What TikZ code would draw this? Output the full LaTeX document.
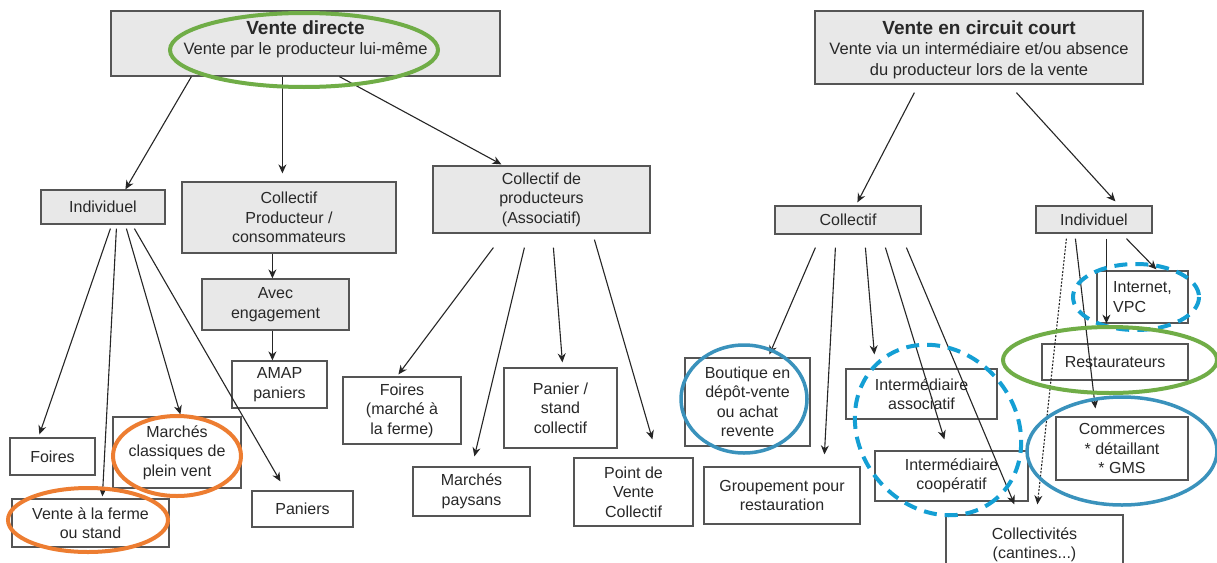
\documentclass[tikz,border=0pt]{standalone}
\usepackage{fontspec}
\setmainfont{Liberation Sans}
\usetikzlibrary{arrows.meta,calc}
\definecolor{boxgray}{RGB}{232,232,232}
\definecolor{boxline}{RGB}{85,85,85}
\definecolor{textcol}{RGB}{40,40,40}
\definecolor{ringgreen}{RGB}{112,173,71}
\definecolor{ringorange}{RGB}{237,125,49}
\definecolor{ringblue}{RGB}{58,146,188}
\definecolor{dashblue}{RGB}{20,159,212}
\tikzset{
  box/.style={draw=boxline, line width=1.2pt, inner sep=0pt, align=center,
              font=\fontsize{16}{19.5}\selectfont, text=textcol},
  gbox/.style={box, fill=boxgray},
  wbox/.style={box, fill=white},
  hdrtext/.style={align=center, inner sep=0pt, text=textcol,
              font=\fontsize{16.5}{20.5}\selectfont},
  conn/.style={draw=black!85, line width=1.1pt, -{Stealth[length=9pt,width=8pt]}},
  dotconn/.style={conn, dash pattern=on 2pt off 1.6pt},
  ring/.style={line width=4pt},
  dashring/.style={line width=4pt, draw=dashblue, dash pattern=on 13pt off 8pt},
}
\begin{document}
\begin{tikzpicture}[x=1pt,y=-1pt]
\clip (0,0) rectangle (1217,562);
\fill[white] (0,0) rectangle (1217,562);

% ---------- left: vente directe ----------
\node[gbox, minimum width=389, minimum height=65] (vd) at (305.5,43.5) {};
\node[hdrtext] (vdtext) at ($(vd)+(0,-4)$) {{\bfseries\fontsize{19}{21}\selectfont Vente directe}\\Vente par le producteur lui-même};

\node[gbox, minimum width=124, minimum height=34] (indL) at (103,207) {Individuel};
\node[gbox, minimum width=214, minimum height=71] (cpc) at (289,217.5) {Collectif\\Producteur /\\consommateurs};
\node[gbox, minimum width=217, minimum height=67] (cdp) at (541.5,199.5) {Collectif de\\producteurs\\(Associatif)};
\node[gbox, minimum width=147, minimum height=51] (avec) at (275.5,304.5) {Avec\\engagement};
\node[wbox, minimum width=95, minimum height=47] (amap) at (279.5,384.5) {AMAP\\paniers};

\node[wbox, minimum width=85, minimum height=37] (foiresL) at (52.5,456.5) {Foires};
\node[wbox, minimum width=128, minimum height=71] (marches) at (177,452.5) {Marchés\\classiques de\\plein vent};
\node[wbox, minimum width=157, minimum height=48] (vferme) at (90.5,523) {Vente à la ferme\\ou stand};
\node[wbox, minimum width=101, minimum height=36] (paniers) at (302.5,509) {Paniers};

\node[wbox, minimum width=118, minimum height=67] (foiresM) at (402,410.5) {Foires\\(marché à\\la ferme)};
\node[wbox, minimum width=117, minimum height=49] (mpays) at (471.5,491.5) {Marchés\\paysans};
\node[wbox, minimum width=113, minimum height=80] (panier) at (560.5,408) {Panier /\\stand\\collectif};
\node[wbox, minimum width=119, minimum height=68] (pvc) at (633.5,492) {Point de\\Vente\\Collectif};

% ---------- right: circuit court ----------
\node[gbox, minimum width=328, minimum height=73] (vcc) at (979,47.5) {};
\node[hdrtext] (vcctext) at ($(vcc)+(0,2)$) {{\bfseries\fontsize{19}{21}\selectfont Vente en circuit court}\\Vente via un intermédiaire et/ou absence\\du producteur lors de la vente};

\node[gbox, minimum width=146, minimum height=28] (coll) at (848,220) {Collectif};
\node[gbox, minimum width=116, minimum height=27] (indR) at (1094,219.5) {Individuel};

\node[wbox, minimum width=125, minimum height=88] (boutique) at (747.5,402) {Boutique en\\dépôt-vente\\ou achat\\revente};
\node[wbox, minimum width=156, minimum height=57] (group) at (782,495.5) {Groupement pour\\restauration};
\node[wbox, minimum width=151, minimum height=50] (iassoc) at (921.5,394) {Intermédiaire\\associatif};
\node[wbox, minimum width=153, minimum height=50] (icoop) at (951.5,476) {Intermédiaire\\coopératif};
\node[wbox, minimum width=177, minimum height=60] (collect) at (1034.5,545) {Collectivités\\(cantines...)};
\node[wbox, minimum width=91, minimum height=52, align=left] (internet) at (1142.5,297) {Internet,\\VPC};
\node[wbox, minimum width=146, minimum height=36] (resto) at (1115,362) {Restaurateurs};
\node[wbox, minimum width=132, minimum height=63] (commerces) at (1122,448.5) {Commerces\\* détaillant\\* GMS};

% ---------- connectors ----------
\draw[conn] ($(vd.south west)+(81,0)$) -- ($(indL.north west)+(85,0)$);
\draw[conn] ($(vd.south west)+(172,0)$) -- ($(cpc.north west)+(101,-8)$);
\draw[conn] ($(vd.south west)+(229,0)$) -- ($(cdp.north west)+(69,-1)$);

\draw[conn] ($(indL.south west)+(70,4)$) -- ($(foiresL.north west)+(30,-3)$);
\draw[conn] ($(indL.south west)+(76,4)$) -- ($(vferme.north west)+(91,-2)$);
\draw[conn] ($(indL.south west)+(86,4)$) -- ($(marches.north west)+(68,-2)$);
\draw[conn] ($(indL.south west)+(94,4)$) -- ($(paniers.north west)+(29,-9)$);

\draw[conn] ($(cpc.south west)+(91,0)$) -- ($(avec.north west)+(71,0)$);
\draw[conn] ($(avec.south west)+(71,0)$) -- ($(amap.north west)+(41,0)$);

\draw[conn] ($(cdp.south west)+(61,14)$) -- ($(foiresM.north west)+(56,-2)$);
\draw[conn] ($(cdp.south west)+(92,14)$) -- ($(mpays.north west)+(62,-10)$);
\draw[conn] ($(cdp.south west)+(121,14)$) -- ($(panier.north west)+(59,-5)$);
\draw[conn] ($(cdp.south west)+(162,6)$) -- ($(pvc.north west)+(79,-18)$);

\draw[conn] ($(vcc.south west)+(100,8)$) -- ($(coll.north west)+(83,-3)$);
\draw[conn] ($(vcc.south west)+(202,8)$) -- ($(indR.north west)+(80,-4)$);

\draw[conn] ($(coll.south west)+(41,13)$) -- ($(boutique.north west)+(85,-3)$);
\draw[conn] ($(coll.south west)+(61,13)$) -- ($(group.north west)+(121,-12)$);
\draw[conn] ($(coll.south west)+(91,13)$) -- ($(iassoc.north west)+(29,-14)$);
\draw[conn] ($(coll.south west)+(111,13)$) -- ($(icoop.north west)+(70,-11)$);
\draw[conn] ($(coll.south west)+(132,13)$) -- ($(collect.north west)+(69,-10)$);

\draw[dotconn] ($(indR.south west)+(31,5)$) -- ($(collect.north west)+(92,-10)$);
\draw[conn] ($(indR.south west)+(40,5)$) -- ($(commerces.north west)+(40,-8)$);
\draw[conn] ($(indR.south west)+(71,5)$) -- ($(internet.south west)+(10,0)$);
\draw[conn] ($(indR.south west)+(91,5)$) -- ($(internet.north west)+(60,-1)$);

% ---------- highlight rings ----------
\draw[ring, draw=ringgreen] (304,50) ellipse [x radius=134, y radius=37];
\draw[ring, draw=ringorange] (177,456) ellipse [x radius=64, y radius=40];
\draw[ring, draw=ringorange] (88,520) ellipse [x radius=80, y radius=32];
\draw[ring, draw=ringblue, line width=3.5pt] (744,399) ellipse [x radius=63, y radius=54];
\draw[dashring, rotate around={-50:(938,430)}] (938,430) ellipse [x radius=90, y radius=78];
\draw[dashring] (1136,297) ellipse [x radius=63, y radius=33];
\draw[ring, draw=ringgreen] (1110,360) ellipse [x radius=107, y radius=33];
\draw[ring, draw=ringblue, line width=3.5pt] (1122,451) ellipse [x radius=95, y radius=54];
\end{tikzpicture}
\end{document}
